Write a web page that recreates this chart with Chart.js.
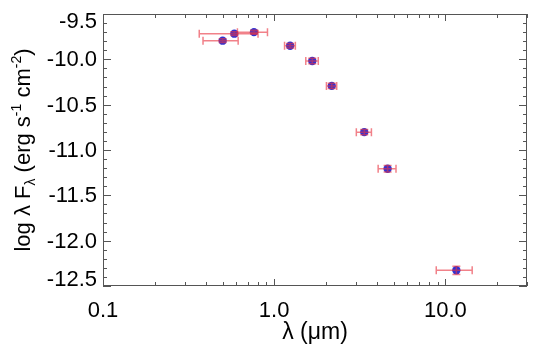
<!DOCTYPE html>
<html>
<head>
<meta charset="utf-8">
<script src="https://cdn.jsdelivr.net/npm/chart.js@4"></script>
<style>
  html, body { margin: 0; padding: 0; background: #ffffff; }
  #c { display: block; }
</style>
</head>
<body>
<canvas id="c" width="537" height="348"></canvas>
<script>
// ---- data ----
const wavelength = [0.50, 0.585, 0.762, 1.24, 1.67, 2.17, 3.36, 4.6, 11.6];   // micron
const wavelengthErr = [0.116, 0.22, 0.152, 0.09, 0.14, 0.15, 0.34, 0.55, 2.75];
const logFlux = [-9.794, -9.717, -9.700, -9.850, -10.018, -10.293, -10.803, -11.207, -12.327];
const logFluxErr = [0.02, 0.02, 0.02, 0.025, 0.03, 0.03, 0.03, 0.035, 0.045];

const xTickValues = [0.1, 1, 10];
const xTickLabels = ['0.1', '1.0', '10.0'];
const yTickValues = [-12.5, -12.0, -11.5, -11.0, -10.5, -10.0, -9.5];
const yTickLabels = ['-12.5', '-12.0', '-11.5', '-11.0', '-10.5', '-10.0', '-9.5'];

const X_MIN = 0.1, X_MAX = 30, Y_MIN = -12.5, Y_MAX = -9.5;
const FONT = '"Liberation Sans", Arial, Helvetica, sans-serif';

const points = wavelength.map((w, i) => ({ x: w, y: logFlux[i] }));

const errorBarPlugin = {
  id: 'errorBars',
  afterDatasetsDraw(chart) {
    const ctx = chart.ctx, xs = chart.scales.x, ys = chart.scales.y;
    ctx.save();
    ctx.strokeStyle = 'rgba(232,52,64,0.62)';
    ctx.lineWidth = 1.5;
    const cap = 4;
    wavelength.forEach((w, i) => {
      const px = xs.getPixelForValue(w);
      const py = ys.getPixelForValue(logFlux[i]);
      const x1 = xs.getPixelForValue(w - wavelengthErr[i]);
      const x2 = xs.getPixelForValue(w + wavelengthErr[i]);
      const y1 = ys.getPixelForValue(logFlux[i] - logFluxErr[i]);
      const y2 = ys.getPixelForValue(logFlux[i] + logFluxErr[i]);
      ctx.beginPath();
      ctx.moveTo(x1, py); ctx.lineTo(x2, py);
      ctx.moveTo(x1, py - cap); ctx.lineTo(x1, py + cap);
      ctx.moveTo(x2, py - cap); ctx.lineTo(x2, py + cap);
      ctx.moveTo(px, y1); ctx.lineTo(px, y2);
      ctx.moveTo(px - cap, y1); ctx.lineTo(px + cap, y1);
      ctx.moveTo(px - cap, y2); ctx.lineTo(px + cap, y2);
      ctx.stroke();
    });
    ctx.restore();
  }
};

function drawRichText(ctx, segs, x, y) {
  let total = 0;
  segs.forEach(s => { ctx.font = s.size + 'px ' + FONT; s.w = ctx.measureText(s.t).width; total += s.w; });
  let cx = x - total / 2;
  segs.forEach(s => {
    ctx.font = s.size + 'px ' + FONT;
    ctx.fillText(s.t, cx, y + (s.dy || 0));
    cx += s.w;
  });
}

const axesPlugin = {
  id: 'idlAxes',
  afterDraw(chart) {
    const ctx = chart.ctx, xs = chart.scales.x, ys = chart.scales.y;
    const a = chart.chartArea;
    ctx.save();
    ctx.strokeStyle = '#555555';
    ctx.lineWidth = 1;
    ctx.strokeRect(a.left + 0.5, a.top + 0.5, a.right - a.left - 1, a.bottom - a.top - 1);
    ctx.beginPath();
    xTickValues.forEach(d => {
      for (let m = 1; m <= 9; m++) {
        const v = d * m;
        if (v < X_MIN - 1e-9 || v > X_MAX + 1e-9) continue;
        const px = Math.round(xs.getPixelForValue(v)) + 0.5;
        const len = m === 1 ? 7 : 4;
        ctx.moveTo(px, a.bottom); ctx.lineTo(px, a.bottom - len);
        ctx.moveTo(px, a.top); ctx.lineTo(px, a.top + len);
      }
    });
    for (let k = 0; k <= 30; k++) {
      const v = Y_MIN + k * 0.1;
      const py = Math.round(ys.getPixelForValue(v)) + 0.5;
      const len = (k % 5 === 0) ? 8 : 4;
      ctx.moveTo(a.left, py); ctx.lineTo(a.left + len, py);
      ctx.moveTo(a.right, py); ctx.lineTo(a.right - len, py);
    }
    ctx.stroke();

    ctx.fillStyle = '#000000';
    ctx.font = '22px ' + FONT;
    ctx.textAlign = 'right';
    ctx.textBaseline = 'middle';
    yTickValues.forEach((v, i) => {
      let py = ys.getPixelForValue(v);
      py = Math.min(Math.max(py, a.top + 7), a.bottom - 7);
      ctx.fillText(yTickLabels[i], a.left - 6, py + 1);
    });
    ctx.textAlign = 'center';
    ctx.textBaseline = 'alphabetic';
    xTickValues.forEach((v, i) => {
      ctx.fillText(xTickLabels[i], xs.getPixelForValue(v), a.bottom + 31);
    });

    ctx.font = '23px ' + FONT;
    ctx.fillText('\u03bb (\u03bcm)', (a.left + a.right) / 2, 339);

    ctx.save();
    ctx.translate(30, (a.top + a.bottom) / 2);
    ctx.rotate(-Math.PI / 2);
    ctx.textAlign = 'left';
    ctx.textBaseline = 'alphabetic';
    drawRichText(ctx, [
      { t: 'log \u03bb F', size: 22 },
      { t: '\u03bb', size: 14, dy: 5 },
      { t: ' (erg s', size: 22 },
      { t: '-1', size: 14, dy: -9 },
      { t: ' cm', size: 22 },
      { t: '-2', size: 14, dy: -9 },
      { t: ')', size: 22 }
    ], 0, 0);
    ctx.restore();
    ctx.restore();
  }
};

new Chart(document.getElementById('c'), {
  type: 'scatter',
  data: {
    datasets: [{
      data: points,
      pointRadius: 4.2,
      pointHoverRadius: 4.2,
      pointBackgroundColor: '#3232d2',
      pointBorderColor: '#3232d2',
      pointBorderWidth: 0,
      showLine: false
    }]
  },
  options: {
    responsive: false,
    devicePixelRatio: 1,
    animation: false,
    events: [],
    layout: { padding: { left: 103, top: 14, right: 10, bottom: 62 } },
    plugins: { legend: { display: false }, tooltip: { enabled: false } },
    scales: {
      x: { type: 'logarithmic', min: X_MIN, max: X_MAX, display: false },
      y: { type: 'linear', min: Y_MIN, max: Y_MAX, display: false }
    }
  },
  plugins: [errorBarPlugin, axesPlugin]
});
</script>
</body>
</html>
